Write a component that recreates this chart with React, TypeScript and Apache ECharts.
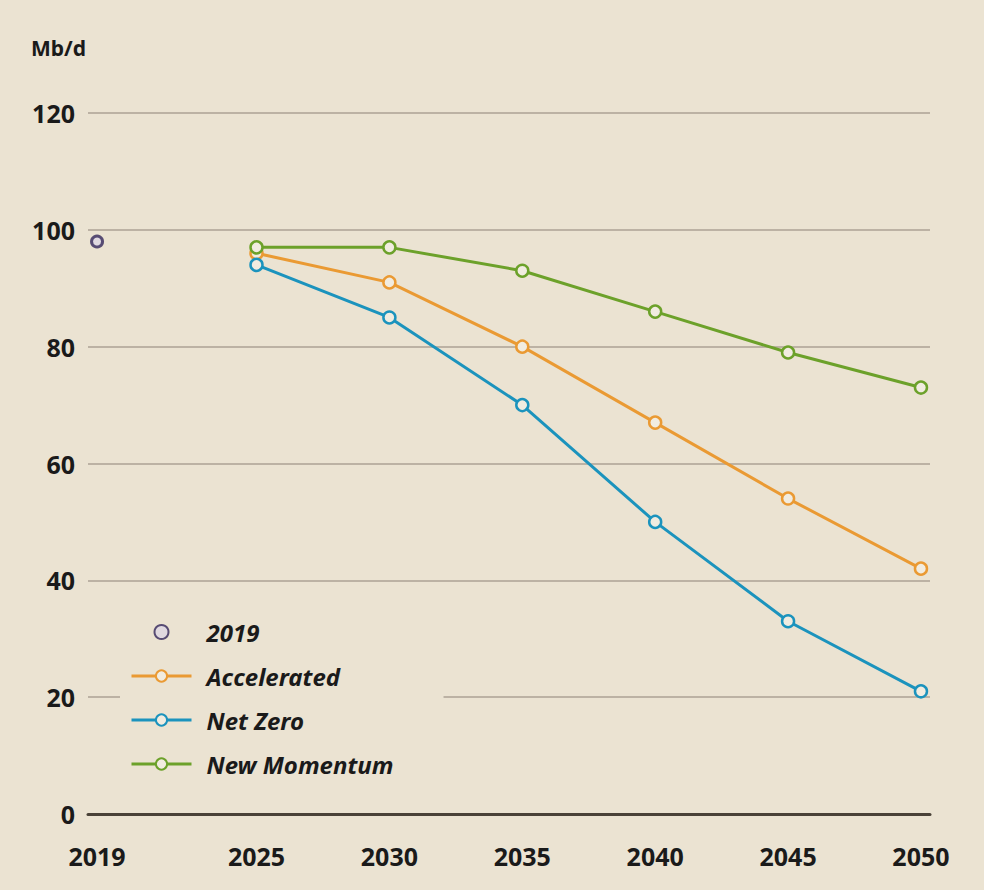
import React, { useEffect, useRef } from "react";
import * as echarts from "echarts";

const years = [2025, 2030, 2035, 2040, 2045, 2050];
const xTickYears = [2019, 2025, 2030, 2035, 2040, 2045, 2050];
const base2019 = [[2019, 98]];
const accelerated = [96, 91, 80, 67, 54, 42];
const netZero = [94, 85, 70, 50, 33, 21];
const newMomentum = [97, 97, 93, 86, 79, 73];

const BG = "#ebe3d2";
const FONT = "'Noto Sans', 'Open Sans', sans-serif";

function pairs(vals: number[]) {
  return years.map((y, i) => [y, vals[i]]);
}

function lineSeries(name: string, color: string, vals: number[]) {
  return {
    name,
    type: "line",
    data: pairs(vals),
    color,
    symbol: "circle",
    symbolSize: 12,
    lineStyle: { color, width: 3 },
    itemStyle: { color: "#f1ece0", borderColor: color, borderWidth: 2.5 },
    z: 3,
  };
}

export default function App() {
  const ref = useRef<HTMLDivElement>(null);
  useEffect(() => {
    document.body.style.margin = "0";
    document.body.style.background = BG;
    const chart = echarts.init(ref.current!, null, { renderer: "svg" });
    chart.setOption({
      animation: false,
      backgroundColor: BG,
      title: {
        text: "Mb/d",
        left: 26,
        top: 32,
        textStyle: { fontFamily: FONT, fontWeight: "bold", fontSize: 21, color: "#1a1a1a" },
      },
      grid: { left: 88, right: 54, top: 113, bottom: 76 },
      xAxis: {
        type: "value",
        min: 2018.66,
        max: 2050.34,
        splitLine: { show: false },
        axisTick: { show: false },
        axisLine: { show: true, lineStyle: { color: "#4a4238", width: 3 } },
        axisLabel: {
          customValues: xTickYears,
          margin: 29,
          fontFamily: FONT,
          fontWeight: "bold",
          fontSize: 25,
          color: "#1a1a1a",
          formatter: (v: number) => String(Math.round(v)),
        },
      },
      yAxis: {
        type: "value",
        min: 0,
        max: 120,
        interval: 20,
        axisLine: { show: false },
        axisTick: { show: false },
        splitLine: { lineStyle: { color: "#bcb2a4", width: 2 } },
        axisLabel: {
          margin: 13,
          fontFamily: FONT,
          fontWeight: "bold",
          fontSize: 25,
          color: "#1a1a1a",
        },
      },
      legend: {
        orient: "vertical",
        left: 120,
        top: 612,
        itemWidth: 60,
        itemHeight: 14,
        itemGap: 20,
        padding: [8, 50, 8, 10],
        backgroundColor: BG,
        lineStyle: { width: 3 },
        textStyle: {
          fontFamily: FONT,
          fontWeight: "bold",
          fontStyle: "italic",
          fontSize: 24,
          color: "#1a1a1a",
          padding: [0, 0, 0, 10],
        },
        data: ["2019", "Accelerated", "Net Zero", "New Momentum"],
      },
      series: [
        {
          name: "2019",
          type: "scatter",
          data: base2019,
          color: "#33275a",
          symbol: "circle",
          symbolSize: 11,
          itemStyle: { color: "#ddd6e4", borderColor: "#33275a", borderWidth: 3 },
          z: 3,
        },
        lineSeries("Accelerated", "#ea9a33", accelerated),
        lineSeries("Net Zero", "#1b93bd", netZero),
        lineSeries("New Momentum", "#6ca12a", newMomentum),
      ],
    });
    return () => chart.dispose();
  }, []);
  return (
    <div
      ref={ref}
      style={{ position: "absolute", left: 0, top: 0, width: 984, height: 890 }}
    />
  );
}
